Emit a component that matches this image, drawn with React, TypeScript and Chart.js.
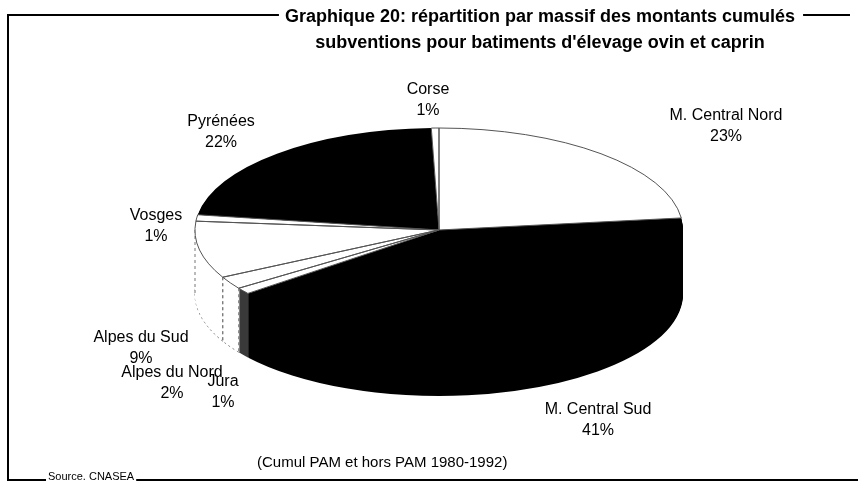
import React, { useEffect, useRef } from 'react';
import { Chart, registerables } from 'chart.js';

Chart.register(...registerables);

// ---- data ----
const categories = ['M. Central Nord', 'M. Central Sud', 'Jura', 'Alpes du Nord', 'Alpes du Sud', 'Vosges', 'Pyrénées', 'Corse'];
// drawn shares (Corse slice is barely visible in the picture, labelled 1% after rounding)
const shares = [23, 41, 1, 2, 9, 1, 22, 0.5];
const shareLabels = ['23%', '41%', '1%', '2%', '9%', '1%', '22%', '1%'];
const titleLines = [
  'Graphique 20: répartition par massif des montants cumulés',
  "subventions pour batiments d'élevage ovin et caprin",
];
const subtitleText = '(Cumul PAM et hors PAM 1980-1992)';
const sourceText = 'Source. CNASEA';

// ---- styles / layout ----
const topColors = ['#ffffff', '#000000', '#ffffff', '#ffffff', '#ffffff', '#ffffff', '#000000', '#ffffff'];
const sideColors = ['#ffffff', '#000000', '#3a3a3a', '#ffffff', '#ffffff', '#ffffff', '#000000', '#ffffff'];
const labelAnchors: [number, number][] = [
  [726, 116], [598, 410], [223, 382], [172, 373], [141, 338], [156, 216], [221, 122], [428, 90],
];
const TILT = 0.418;
const DEPTH = 64;
const FACE_CY = 230;
const RADIUS = 244;
const LABEL_FONT = '16px "Liberation Sans", Arial, sans-serif';
const TITLE_FONT = 'bold 18px "Liberation Sans", Arial, sans-serif';

const pie3d = {
  id: 'pie3d',
  beforeDraw(chart: any) {
    const ctx = chart.ctx;
    ctx.save();
    ctx.fillStyle = '#ffffff';
    ctx.fillRect(0, 0, chart.width, chart.height);
    ctx.restore();
  },
  beforeDatasetsDraw(chart: any) {
    const ctx = chart.ctx;
    const arcs = chart.getDatasetMeta(0).data;
    const cyU = arcs[0].y;
    const tf = (off: number) => {
      ctx.translate(0, FACE_CY + off);
      ctx.scale(1, TILT);
      ctx.translate(0, -cyU);
    };
    // side layers
    for (let d = DEPTH; d >= 1; d--) {
      arcs.forEach((a: any, i: number) => {
        const p = a.getProps(['x', 'y', 'startAngle', 'endAngle', 'outerRadius'], true);
        ctx.save();
        tf(d);
        ctx.beginPath();
        ctx.moveTo(p.x, p.y);
        ctx.arc(p.x, p.y, p.outerRadius, p.startAngle, p.endAngle);
        ctx.closePath();
        ctx.fillStyle = sideColors[i];
        ctx.fill();
        if (d === DEPTH && sideColors[i] === '#ffffff') {
          ctx.beginPath();
          ctx.arc(p.x, p.y, p.outerRadius, p.startAngle, p.endAngle);
          ctx.restore();
          ctx.save();
          ctx.strokeStyle = '#777';
          ctx.lineWidth = 1;
          ctx.setLineDash([2, 3]);
          ctx.stroke();
        }
        ctx.restore();
      });
    }
    // vertical edges of white side slices
    arcs.forEach((a: any, i: number) => {
      if (sideColors[i] !== '#ffffff') return;
      const p = a.getProps(['x', 'y', 'startAngle', 'endAngle', 'outerRadius'], true);
      const angles = [p.startAngle, p.endAngle];
      [Math.PI, 0, 2 * Math.PI].forEach((t) => {
        if (t > p.startAngle && t < p.endAngle) angles.push(t);
      });
      angles.forEach((t) => {
        if (Math.sin(t) < -1e-6) return;
        const x = p.x + p.outerRadius * Math.cos(t);
        const y = FACE_CY + (p.y + p.outerRadius * Math.sin(t) - cyU) * TILT;
        ctx.save();
        ctx.strokeStyle = '#777';
        ctx.lineWidth = 1;
        ctx.setLineDash([3, 3]);
        ctx.beginPath();
        ctx.moveTo(x, y);
        ctx.lineTo(x, y + DEPTH);
        ctx.stroke();
        ctx.restore();
      });
    });
    ctx.save();
    tf(0);
  },
  afterDatasetsDraw(chart: any) {
    const ctx = chart.ctx;
    ctx.restore();
    const arcs = chart.getDatasetMeta(0).data;
    const cyU = arcs[0].y;
    // top face outlines (white slices only)
    arcs.forEach((a: any, i: number) => {
      if (topColors[i] !== '#ffffff') return;
      const p = a.getProps(['x', 'y', 'startAngle', 'endAngle', 'outerRadius'], true);
      ctx.save();
      ctx.translate(0, FACE_CY);
      ctx.scale(1, TILT);
      ctx.translate(0, -cyU);
      ctx.beginPath();
      ctx.moveTo(p.x, p.y);
      ctx.arc(p.x, p.y, p.outerRadius, p.startAngle, p.endAngle);
      ctx.closePath();
      ctx.restore();
      ctx.save();
      ctx.strokeStyle = '#555';
      ctx.lineWidth = 1;
      ctx.stroke();
      ctx.restore();
    });
    // labels
    ctx.save();
    ctx.fillStyle = '#000';
    ctx.font = LABEL_FONT;
    ctx.textAlign = 'center';
    ctx.textBaseline = 'middle';
    categories.forEach((c, i) => {
      const [lx, ly] = labelAnchors[i];
      ctx.fillText(c, lx, ly);
      ctx.fillText(shareLabels[i], lx, ly + 21);
    });
    ctx.textAlign = 'left';
    ctx.font = '15px "Liberation Sans", Arial, sans-serif';
    ctx.fillText(subtitleText, 257, 463);
    ctx.restore();
  },
  afterDraw(chart: any) {
    const ctx = chart.ctx;
    ctx.save();
    ctx.fillStyle = '#000';
    ctx.font = TITLE_FONT;
    ctx.textAlign = 'center';
    ctx.textBaseline = 'middle';
    const cx = 540;
    ctx.fillText(titleLines[0], cx, 17);
    ctx.fillText(titleLines[1], cx, 43);
    const w0 = ctx.measureText(titleLines[0]).width;
    // frame
    ctx.strokeStyle = '#000';
    ctx.lineWidth = 2;
    ctx.beginPath();
    ctx.moveTo(8, 480);
    ctx.lineTo(8, 15);
    ctx.lineTo(cx - w0 / 2 - 6, 15);
    ctx.moveTo(cx + w0 / 2 + 8, 15);
    ctx.lineTo(850, 15);
    ctx.stroke();
    ctx.font = '11px "Liberation Sans", Arial, sans-serif';
    ctx.textAlign = 'left';
    const sw = ctx.measureText(sourceText).width;
    ctx.fillText(sourceText, 48, 477);
    ctx.beginPath();
    ctx.moveTo(7, 480);
    ctx.lineTo(46, 480);
    ctx.moveTo(48 + sw + 2, 480);
    ctx.lineTo(858, 480);
    ctx.stroke();
    ctx.restore();
  },
};

export default function App() {
  const ref = useRef<HTMLCanvasElement | null>(null);
  useEffect(() => {
    document.body.style.margin = '0';
    if (!ref.current) return;
    const chart = new Chart(ref.current, {
      type: 'pie',
      data: {
        labels: categories,
        datasets: [
          {
            data: shares,
            backgroundColor: topColors,
            borderWidth: 0,
            radius: RADIUS,
            clip: false,
          } as any,
        ],
      },
      options: {
        animation: false,
        responsive: false,
        events: [],
        layout: { padding: { left: 20 } },
        plugins: {
          legend: { display: false },
          tooltip: { enabled: false },
          title: { display: false },
        },
      },
      plugins: [pie3d],
    });
    return () => chart.destroy();
  }, []);
  return <canvas ref={ref} width={858} height={485} style={{ display: 'block' }} />;
}
